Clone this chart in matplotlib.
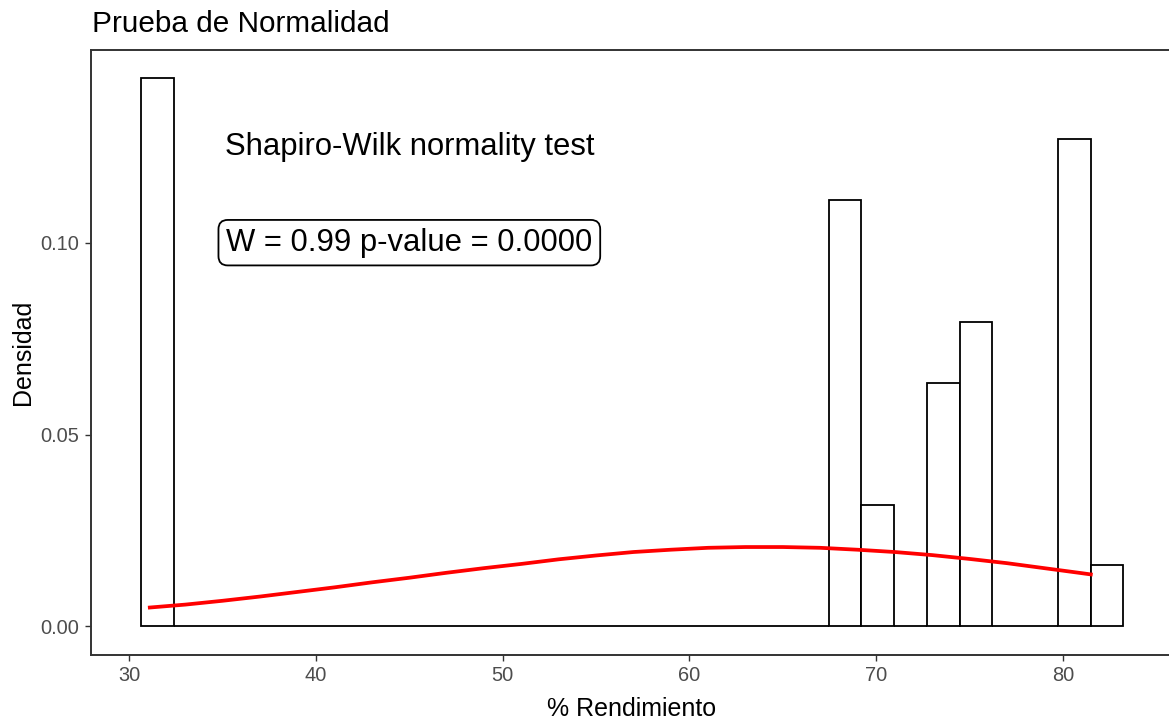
import matplotlib
matplotlib.use("Agg")
import matplotlib.pyplot as plt
import numpy as np

plt.rcParams['font.family'] = ['Liberation Sans', 'DejaVu Sans']

# histogram: 30 bins starting at 30.63, width 1.754 (density scale)
bin_start = 30.63
bin_width = 1.754
densidad = [0.1429, 0, 0, 0, 0, 0, 0, 0, 0, 0,
            0, 0, 0, 0, 0, 0, 0, 0, 0, 0,
            0, 0.1111, 0.0317, 0, 0.0635, 0.0794, 0, 0, 0.1270, 0.0159]

# normal density curve over the data range
curva_x = [31.0, 33, 35, 37, 39, 41, 43, 45, 47, 49, 51, 53, 55, 57,
           59, 61, 63, 65, 67, 69, 71, 73, 75, 77, 79, 81, 81.6]
curva_y = [0.0049, 0.0057, 0.0067, 0.0078, 0.0090, 0.0102, 0.0115, 0.0127,
           0.0140, 0.0152, 0.0163, 0.0175, 0.0185, 0.0194, 0.0200, 0.0205,
           0.0207, 0.0207, 0.0205, 0.0200, 0.0194, 0.0186, 0.0176, 0.0165,
           0.0152, 0.0139, 0.0135]

W = 0.99
p_value = 0.0

titulo = "Prueba de Normalidad"
xlab = "% Rendimiento"
ylab = "Densidad"
xticks = [30, 40, 50, 60, 70, 80]
yticks = [0.00, 0.05, 0.10]

fig = plt.figure(figsize=(11.69, 7.21), dpi=100)
ax = fig.add_axes([91 / 1169, 66 / 721, 1081.4 / 1169, 605 / 721])

lefts = [bin_start + i * bin_width for i in range(len(densidad))]
ax.bar(lefts, densidad, width=bin_width, align='edge', color='white',
       edgecolor='black', linewidth=1.3, zorder=2)
ax.plot(curva_x, curva_y, color='red', linewidth=2.7, zorder=3,
        solid_capstyle='butt')

ax.text(45, 0.125, "Shapiro-Wilk normality test", fontsize=22.3,
        ha='center', va='center', color='black', zorder=4)
ax.text(45, 0.10, "W = %.2f p-value = %.4f" % (W, p_value), fontsize=22.3,
        ha='center', va='center', color='black', zorder=4,
        bbox=dict(boxstyle='round,pad=0.25,rounding_size=0.3', fc='white',
                  ec='black', lw=1.3))

ax.set_xlim(27.95, 85.87)
ax.set_ylim(-0.00743, 0.1502)
ax.set_xticks(xticks)
ax.set_yticks(yticks)
ax.set_yticklabels(["%.2f" % v for v in yticks])
ax.tick_params(axis='both', length=4.2, width=1.0, color='#333333',
               labelsize=14.4, labelcolor='#4D4D4D', pad=4)
for s in ax.spines.values():
    s.set_color('#333333')
    s.set_linewidth(1.4)

ax.set_xlabel(xlab, fontsize=18, labelpad=8)
ax.set_ylabel(ylab, fontsize=18, labelpad=4)
fig.text(92 / 1169, 1 - 31.7 / 721, titulo, fontsize=21.4,
         ha='left', va='baseline')

fig.savefig("out.png", dpi=100)
